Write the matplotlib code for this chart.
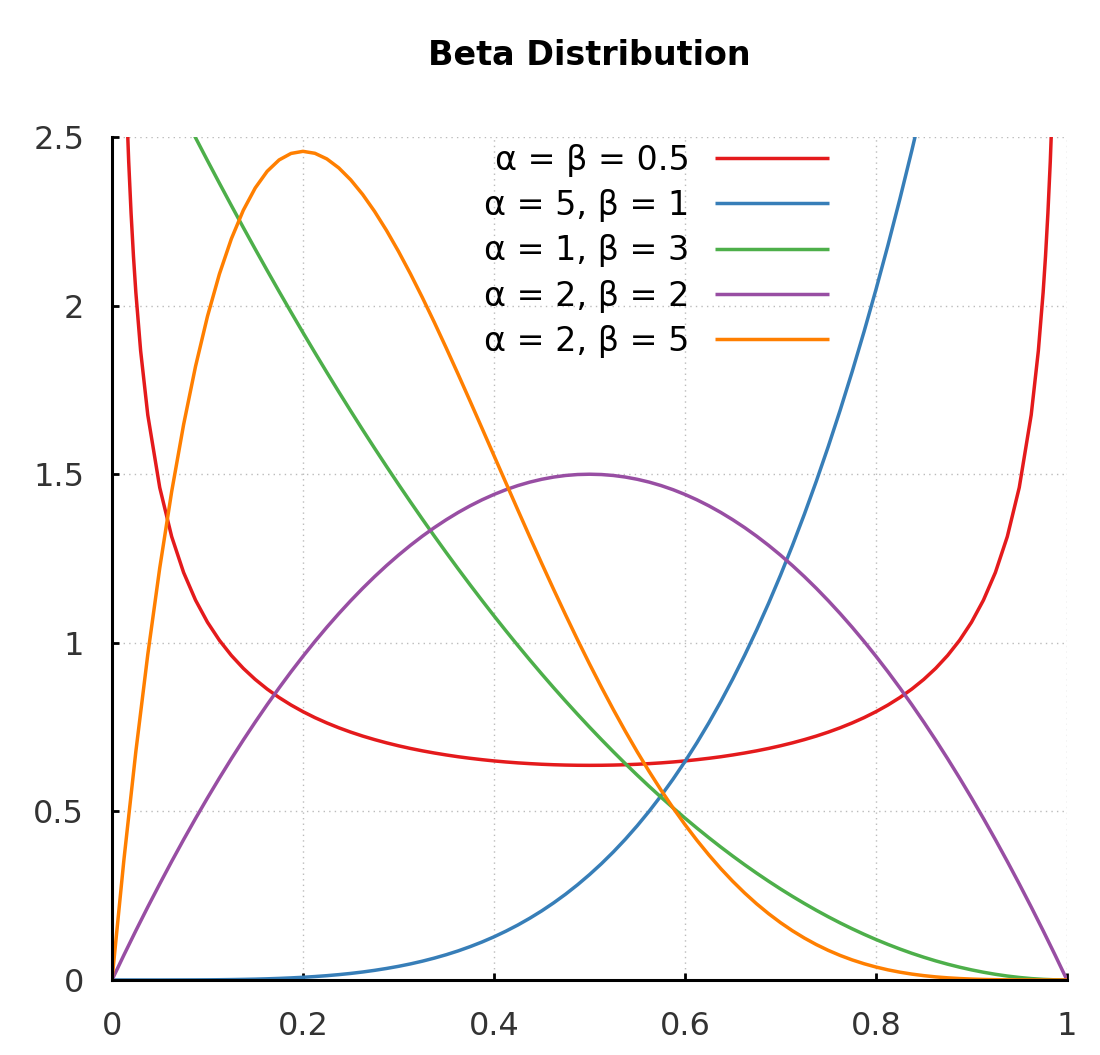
import matplotlib.pyplot as plt
import numpy as np

labels = ["α = β = 0.5", "α = 5, β = 1", "α = 1, β = 3", "α = 2, β = 2", "α = 2, β = 5"]
colors = ["#e41a1c", "#377eb8", "#4daf4a", "#984ea3", "#ff7f00"]

x_grid = np.linspace(0, 1, 81)

x_red = [0.002, 0.005, 0.01, 0.0125, 0.015, 0.0175, 0.02, 0.0225, 0.025, 0.03,
         0.0375, 0.05, 0.0625, 0.075, 0.0875, 0.1, 0.1125, 0.125, 0.1375, 0.15,
         0.1625, 0.175, 0.1875, 0.2, 0.2125, 0.225, 0.2375, 0.25, 0.2625, 0.275,
         0.2875, 0.3, 0.3125, 0.325, 0.3375, 0.35, 0.3625, 0.375, 0.3875, 0.4,
         0.4125, 0.425, 0.4375, 0.45, 0.4625, 0.475, 0.4875, 0.5,
         0.5125, 0.525, 0.5375, 0.55, 0.5625, 0.575, 0.5875, 0.6, 0.6125, 0.625,
         0.6375, 0.65, 0.6625, 0.675, 0.6875, 0.7, 0.7125, 0.725, 0.7375, 0.75,
         0.7625, 0.775, 0.7875, 0.8, 0.8125, 0.825, 0.8375, 0.85, 0.8625, 0.875,
         0.8875, 0.9, 0.9125, 0.925, 0.9375, 0.95, 0.9625, 0.97, 0.975, 0.9775,
         0.98, 0.9825, 0.985, 0.9875, 0.99, 0.995, 0.998]
y_red = [7.125, 4.513, 3.199, 2.865, 2.619, 2.4276, 2.274, 2.1463, 2.039, 1.866,
         1.6755, 1.4605, 1.315, 1.2085, 1.1265, 1.061, 1.0074, 0.9625, 0.9243, 0.8914,
         0.8628, 0.8377, 0.8155, 0.7958, 0.7781, 0.7623, 0.748, 0.7351, 0.7234, 0.7129,
         0.7033, 0.6946, 0.6867, 0.6796, 0.6732, 0.6674, 0.6621, 0.6575, 0.6534, 0.6497,
         0.6466, 0.6439, 0.6417, 0.6398, 0.6384, 0.6374, 0.6368, 0.6366,
         0.6368, 0.6374, 0.6384, 0.6398, 0.6417, 0.6439, 0.6466, 0.6497, 0.6534, 0.6575,
         0.6621, 0.6674, 0.6732, 0.6796, 0.6867, 0.6946, 0.7033, 0.7129, 0.7234, 0.7351,
         0.748, 0.7623, 0.7781, 0.7958, 0.8155, 0.8377, 0.8628, 0.8914, 0.9243, 0.9625,
         1.0074, 1.061, 1.1265, 1.2085, 1.315, 1.4605, 1.6755, 1.866, 2.039, 2.1463,
         2.274, 2.4276, 2.619, 2.865, 3.199, 4.513, 7.125]

y_blue = [0, 0, 0, 0, 0, 0.0001, 0.0002, 0.0003, 0.0005, 0.0008,
          0.0012, 0.0018, 0.0025, 0.0035, 0.0047, 0.0062, 0.008, 0.0102, 0.0128, 0.0159,
          0.0195, 0.0237, 0.0286, 0.0342, 0.0405, 0.0477, 0.0558, 0.0649, 0.075, 0.0863,
          0.0989, 0.1127, 0.128, 0.1448, 0.1631, 0.1832, 0.205, 0.2288, 0.2545, 0.2824,
          0.3125,
          0.3449, 0.3798, 0.4173, 0.4575, 0.5006, 0.5466, 0.5957, 0.648, 0.7037, 0.7629,
          0.8258, 0.8925, 0.9632, 1.038, 1.117, 1.2005, 1.2886, 1.3814, 1.4792, 1.582,
          1.6902, 1.8038, 1.923, 2.048, 2.179, 2.3163, 2.4599, 2.61, 2.767, 2.9309,
          3.102, 3.2805, 3.4666, 3.6605, 3.8624, 4.0725, 4.2911, 4.5184, 4.7546, 5.0]

y_green = [3.0, 2.9255, 2.8519, 2.7792, 2.7075, 2.6367, 2.5669, 2.498, 2.43, 2.363,
           2.2969, 2.2317, 2.1675, 2.1042, 2.0419, 1.9805, 1.92, 1.8605, 1.8019, 1.7442,
           1.6875, 1.6317, 1.5769, 1.523, 1.47, 1.418, 1.3669, 1.3167, 1.2675, 1.2192,
           1.1719, 1.1255, 1.08, 1.0355, 0.9919, 0.9492, 0.9075, 0.8667, 0.8269, 0.788,
           0.75,
           0.713, 0.6769, 0.6417, 0.6075, 0.5742, 0.5419, 0.5105, 0.48, 0.4505, 0.4219,
           0.3942, 0.3675, 0.3417, 0.3169, 0.293, 0.27, 0.248, 0.2269, 0.2067, 0.1875,
           0.1692, 0.1519, 0.1355, 0.12, 0.1055, 0.0919, 0.0792, 0.0675, 0.0567, 0.0469,
           0.038, 0.03, 0.023, 0.0169, 0.0117, 0.0075, 0.0042, 0.0019, 0.0005, 0]

y_purple = [0, 0.0741, 0.1463, 0.2166, 0.285, 0.3516, 0.4163, 0.4791, 0.54, 0.5991,
            0.6563, 0.7116, 0.765, 0.8166, 0.8663, 0.9141, 0.96, 1.0041, 1.0463, 1.0866,
            1.125, 1.1616, 1.1963, 1.2291, 1.26, 1.2891, 1.3163, 1.3416, 1.365, 1.3866,
            1.4063, 1.4241, 1.44, 1.4541, 1.4663, 1.4766, 1.485, 1.4916, 1.4963, 1.4991,
            1.5,
            1.4991, 1.4963, 1.4916, 1.485, 1.4766, 1.4663, 1.4541, 1.44, 1.4241, 1.4063,
            1.3866, 1.365, 1.3416, 1.3163, 1.2891, 1.26, 1.2291, 1.1963, 1.1616, 1.125,
            1.0866, 1.0463, 1.0041, 0.96, 0.9141, 0.8663, 0.8166, 0.765, 0.7116, 0.6563,
            0.5991, 0.54, 0.4791, 0.4163, 0.3516, 0.285, 0.2166, 0.1463, 0.0741, 0]

y_orange = [0, 0.3566, 0.6778, 0.9655, 1.2218, 1.4484, 1.6472, 1.82, 1.9683, 2.0939,
            2.1982, 2.2828, 2.349, 2.3984, 2.4321, 2.4514, 2.4576, 2.4518, 2.4351, 2.4085,
            2.373, 2.3297, 2.2793, 2.2228, 2.1609, 2.0944, 2.024, 1.9505, 1.8743, 1.7962,
            1.7166, 1.6361, 1.5552, 1.4743, 1.3937, 1.314, 1.2353, 1.1581, 1.0826, 1.0089,
            0.9375,
            0.8684, 0.8018, 0.7378, 0.6766, 0.6182, 0.5628, 0.5103, 0.4608, 0.4143, 0.3708,
            0.3302, 0.2926, 0.2579, 0.2259, 0.1967, 0.1701, 0.146, 0.1244, 0.105, 0.0879,
            0.0728, 0.0596, 0.0482, 0.0384, 0.0301, 0.0232, 0.0175, 0.0129, 0.0092, 0.0064,
            0.0043, 0.0027, 0.0016, 0.0009, 0.0004, 0.0002, 0.0001, 0, 0, 0]

x_ticks = [0, 0.2, 0.4, 0.6, 0.8, 1]
x_tick_labels = ["0", "0.2", "0.4", "0.6", "0.8", "1"]
y_ticks = [0, 0.5, 1, 1.5, 2, 2.5]
y_tick_labels = ["0", "0.5", "1", "1.5", "2", "2.5"]

fig = plt.figure(figsize=(11, 10.55), dpi=100)
ax = fig.add_axes([0.1018, 0.0711, 0.8682, 0.799])

series = [(x_red, y_red), (x_grid, y_blue), (x_grid, y_green), (x_grid, y_purple), (x_grid, y_orange)]
for (xs, ys), lab, col in zip(series, labels, colors):
    ax.plot(xs, ys, color=col, lw=2.5, label=lab, solid_capstyle="butt")

ax.set_xlim(0, 1)
ax.set_ylim(0, 2.5)
ax.set_xticks(x_ticks)
ax.set_xticklabels(x_tick_labels)
ax.set_yticks(y_ticks)
ax.set_yticklabels(y_tick_labels)
ax.tick_params(direction="in", length=5, width=2, labelsize=23, labelcolor="#333333")
ax.tick_params(axis="x", pad=22)
ax.tick_params(axis="y", pad=20)

ax.grid(True, color="#bbbbbb", linestyle=(0, (1, 3)), linewidth=1)
ax.set_axisbelow(True)

for side in ["top", "right"]:
    ax.spines[side].set_visible(False)
for side in ["left", "bottom"]:
    ax.spines[side].set_linewidth(2.2)
    ax.spines[side].set_color("black")

ax.set_title("Beta Distribution", fontsize=24, fontweight="bold", pad=52)

ax.legend(loc="upper right", bbox_to_anchor=(0.754, 0.996), frameon=False, markerfirst=False,
          fontsize=24, handlelength=3.42, handletextpad=0.75, labelspacing=0.37,
          borderaxespad=0, borderpad=0.1)

fig.savefig("out.png")
